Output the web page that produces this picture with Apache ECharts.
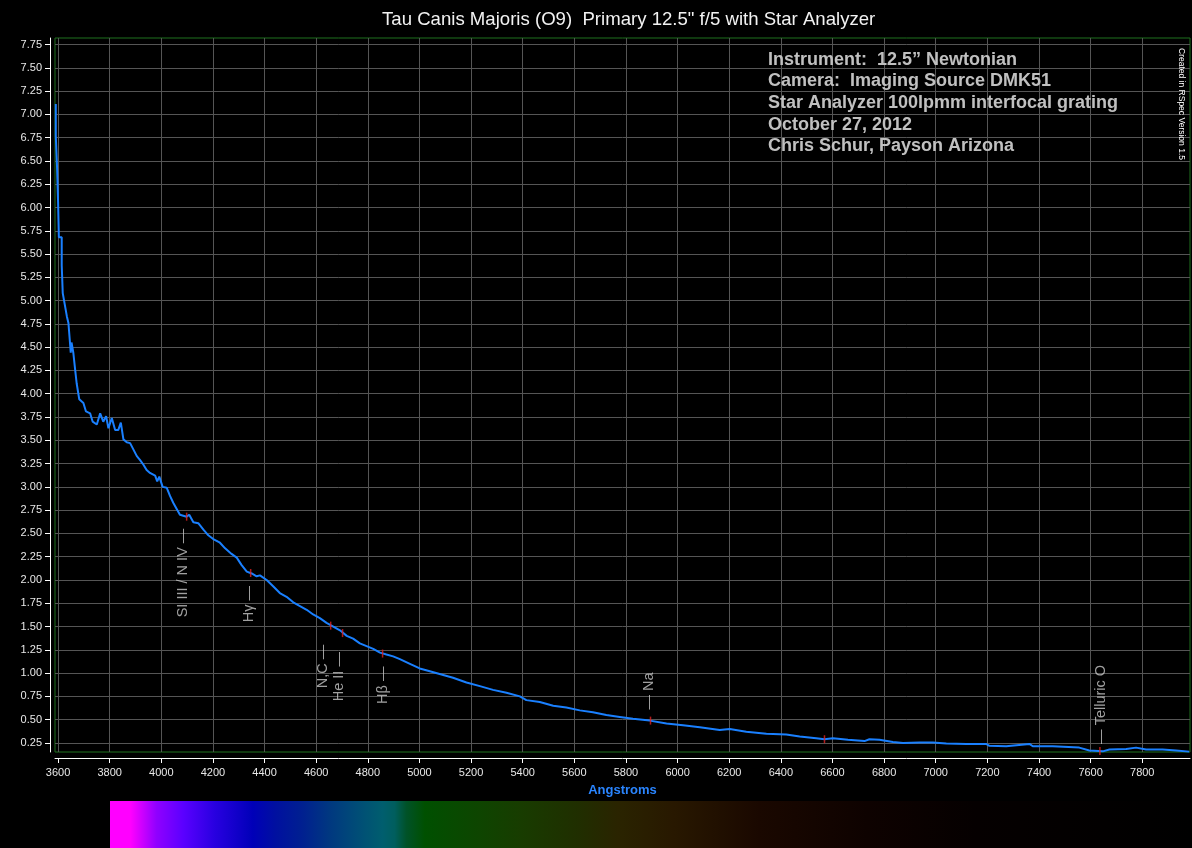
<!DOCTYPE html>
<html><head><meta charset="utf-8">
<script src="https://cdn.jsdelivr.net/npm/echarts@6/dist/echarts.min.js"></script>
<style>html,body{margin:0;padding:0;background:#000;}#c{width:1192px;height:848px;}</style>
</head><body><div id="c"></div>
<script>
// ---- data ----
const titleText = 'Tau Canis Majoris (O9)  Primary 12.5" f/5 with Star Analyzer';
const infoLines = [
  'Instrument:  12.5\u201D Newtonian',
  'Camera:  Imaging Source DMK51',
  'Star Analyzer 100lpmm interfocal grating',
  'October 27, 2012',
  'Chris Schur, Payson Arizona'
];
const creditText = 'Created in RSpec Version 1.5';
const xAxisName = 'Angstroms';

const wavelengths = [3591,3591,3596,3596,3600,3600,3603,3603,3614,3614,3618,3618,3634,3640,3644,3649,3652,3655,3659,3666,
  3672,3682,3698,3708,3724,3734,3750,3763,3775,3786,3795,3808,3821,3833,3843,3853,3866,3879,3892,3905,
  3917,3930,3943,3956,3976,3984,3992,4005,4021,4034,4046,4060,4072,4098,4108,4124,4143,4163,4182,4201,
  4227,4247,4272,4292,4311,4331,4350,4369,4382,4408,4434,4459,4485,4511,4537,4563,4588,4614,4640,4666,
  4692,4718,4743,4769,4795,4821,4847,4872,4898,4924,4963,5001,5040,5092,5130,5182,5234,5285,5337,5389,
  5414,5466,5518,5569,5621,5672,5724,5776,5827,5892,5957,6021,6086,6163,6202,6266,6344,6421,6473,6537,
  6569,6602,6660,6724,6743,6782,6834,6873,6937,6989,7041,7118,7195,7208,7273,7363,7376,7453,7556,7595,
  7647,7673,7738,7776,7815,7879,7931,7982];
const flux = [7.11,6.77,6.77,6.43,6.43,6.05,6.05,5.68,5.68,5.38,5.38,5.08,4.83,4.76,4.62,4.44,4.55,4.54,4.44,4.26,
  4.11,3.94,3.90,3.81,3.79,3.70,3.67,3.79,3.70,3.76,3.63,3.74,3.61,3.61,3.69,3.51,3.48,3.47,3.40,3.33,
  3.29,3.24,3.18,3.15,3.12,3.06,3.11,3.00,2.99,2.90,2.83,2.76,2.70,2.68,2.70,2.62,2.61,2.54,2.48,2.44,
  2.40,2.34,2.28,2.24,2.16,2.09,2.07,2.04,2.05,2.00,1.93,1.86,1.82,1.76,1.72,1.68,1.63,1.59,1.54,1.50,
  1.46,1.40,1.37,1.32,1.29,1.26,1.22,1.20,1.18,1.15,1.10,1.05,1.02,0.98,0.95,0.90,0.86,0.82,0.79,0.75,
  0.71,0.69,0.65,0.63,0.60,0.58,0.55,0.53,0.51,0.49,0.46,0.44,0.42,0.39,0.40,0.37,0.35,0.34,0.32,0.30,
  0.29,0.30,0.285,0.27,0.29,0.285,0.26,0.25,0.255,0.255,0.245,0.24,0.24,0.22,0.215,0.24,0.215,0.215,0.20,0.17,
  0.16,0.18,0.185,0.20,0.18,0.18,0.17,0.157];

const xTicks = [3600,3800,4000,4200,4400,4600,4800,5000,5200,5400,5600,5800,6000,6200,6400,6600,6800,7000,7200,7400,7600,7800];
const yTicks = [0.25,0.50,0.75,1.00,1.25,1.50,1.75,2.00,2.25,2.50,2.75,3.00,3.25,3.50,3.75,4.00,4.25,4.50,4.75,5.00,
  5.25,5.50,5.75,6.00,6.25,6.50,6.75,7.00,7.25,7.50,7.75];

const lineWaves  = [4098, 4346, 4656, 4702, 4857, 5895, 6569, 7636];
const lineFlux   = [2.68, 2.075, 1.51, 1.43, 1.21, 0.49, 0.29, 0.165];
const lineLabels = ['SI III / N IV \u2014', 'H\u03B3 \u2014', 'N,C \u2014', 'He II \u2014', 'H\u03B2 \u2014', '\u2014 Na', '', '\u2014 Telluric O'];

// ---- layout / style (separate from data) ----
const labelSide  = ['below','below','below','below','below','above','none','above'];
const labelShift = [[-4,12],[-2,13],[-8,19],[-4,19],[0,13],[-2,11],[0,0],[1,7]]; // [dx, gap] px
const TICK_W = 1.5, TICK_H = 8;
const FONT = "'Liberation Sans', Arial, sans-serif";

const markData = lineWaves.map((w, i) => {
  const side = labelSide[i];
  const [dx, gap] = labelShift[i];
  const item = { value: [w, lineFlux[i]], name: lineLabels[i] };
  if (side === 'none') { item.label = { show: false }; return item; }
  item.label = {
    show: true,
    formatter: lineLabels[i],
    rotate: 90,
    position: side === 'below' ? [TICK_W/2 + dx, TICK_H/2 + gap] : [TICK_W/2 + dx, TICK_H/2 - gap],
    align: side === 'below' ? 'right' : 'left',
    verticalAlign: 'middle',
    color: '#c8c8c8',
    fontSize: 14.5,
    fontFamily: FONT
  };
  return item;
});

const spectrumStops = [
  [0.000,'#ff00ff'],[0.019,'#ff00ff'],[0.043,'#9000ff'],[0.068,'#5a00ff'],[0.097,'#2800e0'],
  [0.132,'#0000b8'],[0.153,'#0010a0'],[0.178,'#002090'],[0.203,'#003880'],[0.225,'#004a78'],
  [0.252,'#005e6e'],[0.263,'#005e5e'],[0.274,'#005228'],[0.291,'#005000'],[0.327,'#0a4800'],
  [0.380,'#183c00'],[0.433,'#202e00'],[0.469,'#2a2400'],[0.521,'#281800'],[0.60,'#1a0800'],
  [0.70,'#0e0200'],[0.80,'#050000'],[1.0,'#000000']
];

const chart = echarts.init(document.getElementById('c'), null, { renderer: 'canvas' });
chart.setOption({
  backgroundColor: '#000',
  animation: false,
  title: {
    text: titleText, left: 377, top: 5,
    textStyle: { color: '#f2f2f2', fontSize: 18.6, fontWeight: 'normal', fontFamily: FONT }
  },
  grid: { left: 55, right: 2, top: 38, bottom: 96, show: true, borderColor: '#1f701f', borderWidth: 1 },
  xAxis: {
    type: 'value', min: 3588, max: 7985, offset: 6,
    axisLine: { show: true, onZero: false, lineStyle: { color: '#ffffff', width: 1 } },
    axisTick: { show: true, length: 5, customValues: xTicks, lineStyle: { color: '#ffffff' } },
    axisLabel: { customValues: xTicks, color: '#e8e8e8', fontSize: 11, margin: 9, fontFamily: FONT,
      formatter: v => String(Math.round(v)) },
    splitLine: { show: true, lineStyle: { color: '#555555', width: 1 } },
    name: xAxisName, nameLocation: 'middle', nameGap: 26,
    nameTextStyle: { color: '#2a85ff', fontWeight: 'bold', fontSize: 13, fontFamily: "'Liberation Sans Narrow', 'Liberation Sans', Arial, sans-serif" }
  },
  yAxis: {
    type: 'value', min: 0.153, max: 7.82, offset: 5,
    axisLine: { show: true, onZero: false, lineStyle: { color: '#ffffff', width: 1 } },
    axisTick: { show: true, length: 5, customValues: yTicks, lineStyle: { color: '#ffffff' } },
    axisLabel: { customValues: yTicks, color: '#e8e8e8', fontSize: 11, margin: 8, fontFamily: FONT,
      formatter: v => Number(v).toFixed(2) },
    splitLine: { show: true, lineStyle: { color: '#555555', width: 1 } }
  },
  series: [
    {
      type: 'line', data: wavelengths.map((w, i) => [w, flux[i]]),
      showSymbol: false, symbol: 'none', smooth: false,
      lineStyle: { color: '#1a80ff', width: 2 }, z: 3
    },
    {
      type: 'scatter', data: markData, symbol: 'rect', symbolSize: [TICK_W, TICK_H],
      itemStyle: { color: '#e02020' }, z: 4
    }
  ],
  graphic: [
    { type: 'text', left: 768, top: 49, z: 10,
      style: { text: infoLines.join('\n'), fill: '#c0c0c0', font: "bold 18px 'Liberation Sans', Arial, sans-serif", lineHeight: 21.6 } },
    { type: 'text', x: 1181, y: 48, rotation: -Math.PI / 2, z: 10,
      style: { text: creditText, fill: '#ffffff', font: "8.5px 'Liberation Sans', Arial, sans-serif", align: 'left', verticalAlign: 'middle' } },
    { type: 'rect', shape: { x: 110, y: 801, width: 1082, height: 47 }, z: 0,
      style: { fill: new echarts.graphic.LinearGradient(0, 0, 1, 0, spectrumStops.map(s => ({ offset: s[0], color: s[1] }))) } }
  ]
});
</script></body></html>
